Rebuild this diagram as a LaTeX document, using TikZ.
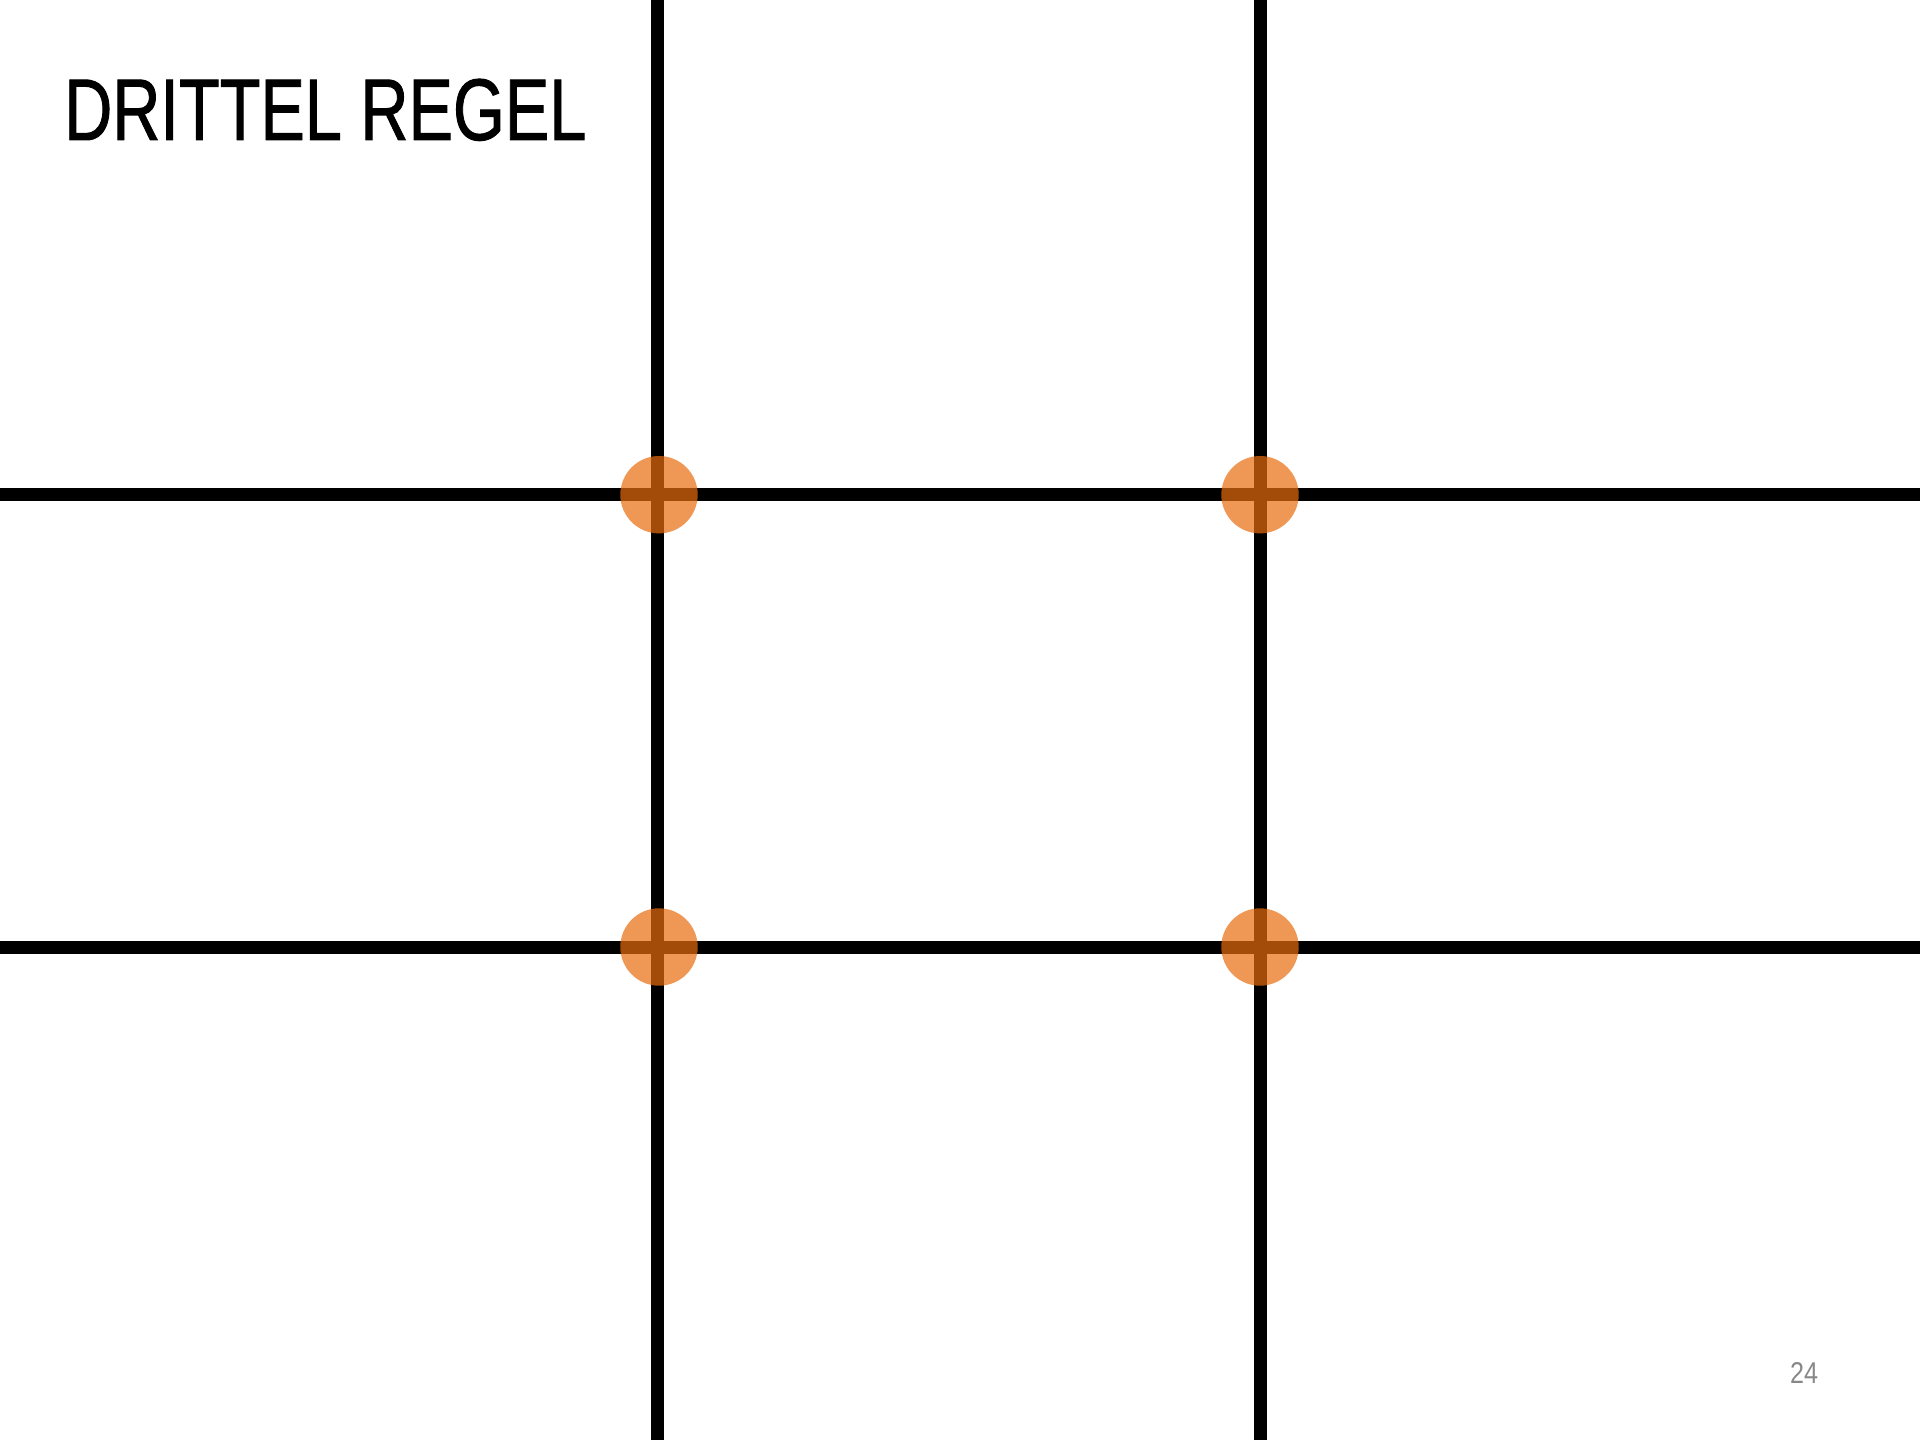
\documentclass[tikz,border=0pt]{standalone}
\usepackage{fontspec}
\setmainfont{Liberation Sans}
\newfontfamily\titlefont[FakeBold=1.2]{Liberation Sans}
\definecolor{dotorange}{RGB}{233,109,14}
\definecolor{pagegray}{RGB}{136,136,136}
\begin{document}
\begin{tikzpicture}[x=1pt,y=-1pt,
  gridline/.style={line width=13pt,black},
  thirddot/.style={circle,fill=dotorange,fill opacity=0.7,minimum size=77.4pt,inner sep=0pt}]
\useasboundingbox (0,0) rectangle (1920,1440);
\fill[white] (0,0) rectangle (1920,1440);
% grid lines
\draw[gridline] (657.5,0) -- (657.5,1440);
\draw[gridline] (1260,0) -- (1260,1440);
\draw[gridline] (0,494.7) -- (1920,494.7);
\draw[gridline] (0,947) -- (1920,947);
% intersection dots
\node[thirddot] (d1) at (659,494.7) {};
\node[thirddot] (d2) at (1260,494.7) {};
\node[thirddot] (d3) at (659,947) {};
\node[thirddot] (d4) at (1260,947) {};
% title
\node[anchor=south west,inner sep=0pt] (title) at (64,141) {\resizebox{522pt}{61pt}{\titlefont DRITTEL REGEL}};
% page number
\node[anchor=south west,inner sep=0pt,text=pagegray] (page) at (1790,1384) {\resizebox{28pt}{21pt}{24}};
\end{tikzpicture}
\end{document}
